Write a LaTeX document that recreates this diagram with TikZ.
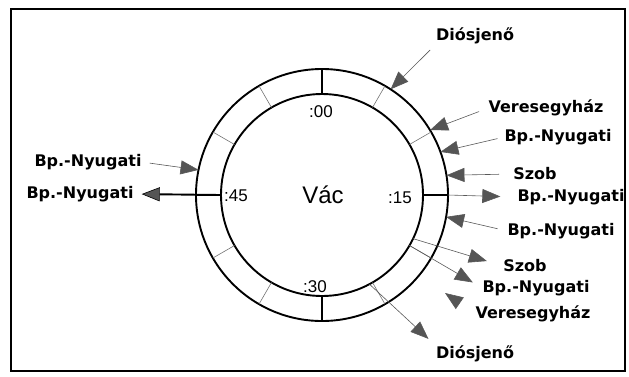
\documentclass[tikz,border=0pt]{standalone}
\usepackage{fontspec}
\setsansfont{DejaVu Sans}
\newfontfamily\clockfont{Liberation Sans}
\usetikzlibrary{arrows.meta,calc}
\definecolor{headgray}{RGB}{85,85,85}
\tikzset{
  stationlbl/.style={inner sep=0pt,
    font=\sffamily\bfseries\fontsize{16}{19}\selectfont},
  timelbl/.style={inner sep=0pt, font=\clockfont\fontsize{17}{20}\selectfont},
  townlbl/.style={inner sep=0pt, font=\clockfont\fontsize{24}{28}\selectfont},
  ringline/.style={line width=1.9pt},
  minortick/.style={black!55, line width=0.6pt},
  majortick/.style={line width=1.9pt},
  inarr/.style={-{Triangle[length=18pt, width=14pt, fill=headgray, line width=0.6pt]},
    black!65, line width=0.6pt},
  outarr/.style={inarr},
  mainarr/.style={inarr, black, line width=1.9pt},
}

\begin{document}
\begin{tikzpicture}[x=1pt, y=-1pt]
  \useasboundingbox (0,0) rectangle (629,376);
  \draw[line width=1.2pt] (11,9) rectangle (625,371);

  % Ring
  \coordinate (c) at (322,195);
  \draw[ringline] (c) circle[radius=126];
  \draw[ringline] (c) circle[radius=101];
  \foreach \a in {-60,-30,30,60,120,150,210,240}
    \draw[minortick] ($(c)+(\a:101)$) -- ($(c)+(\a:126)$);
  \foreach \a in {-90,0,90,180}
    \draw[majortick] ($(c)+(\a:101)$) -- ($(c)+(\a:126)$);

  % Times
  \node[townlbl] (vac) at (323,195) {Vác};
  \node[timelbl] (t00) at (321,112) {:00};
  \node[timelbl] (t15) at (400,198) {:15};
  \node[timelbl] (t30) at (315,287) {:30};
  \node[timelbl] (t45) at (236,196) {:45};

  % Stations
  \node[stationlbl] (d1) at (475,36) {Diósjenő};
  \node[stationlbl] (v1) at (546,108) {Veresegyház};
  \node[stationlbl] (b1) at (558,137) {Bp.-Nyugati};
  \node[stationlbl] (s1) at (535,174) {Szob};
  \node[stationlbl] (b2) at (571,197) {Bp.-Nyugati};
  \node[stationlbl] (b3) at (561,231) {Bp.-Nyugati};
  \node[stationlbl] (s2) at (525,266) {Szob};
  \node[stationlbl] (b4) at (536,288) {Bp.-Nyugati};
  \node[stationlbl] (v2) at (533,314) {Veresegyház};
  \node[stationlbl] (d2) at (475,354) {Diósjenő};
  \node[stationlbl] (l1) at (88,162) {Bp.-Nyugati};
  \node[stationlbl] (l2) at (80,194) {Bp.-Nyugati};

  % Points on the ring
  \coordinate (d1tip) at ($(c)+(-57:126)$);
  \coordinate (v1tip) at ($(c)+(-31:126)$);
  \coordinate (b1tip) at ($(c)+(-20:126)$);
  \coordinate (s1tip) at ($(c)+(-9:126)$);
  \coordinate (b2start) at ($(c)+(0:126)$);
  \coordinate (b3tip) at ($(c)+(10:126)$);
  \coordinate (s2start) at ($(c)+(25.6:101)$);
  \coordinate (b4start) at ($(c)+(30:101)$);
  \coordinate (v2tip) at (445,293);
  \coordinate (d2start) at ($(c)+(62:101)$);
  \coordinate (l1tip) at ($(c)+(191.5:126)$);
  \coordinate (l2start) at ($(c)+(180:101)$);

  % Arrows
  \draw[inarr, shorten <=8pt] (d1.south west) -- (d1tip);
  \draw[inarr, shorten <=10pt] (v1.west) -- (v1tip);
  \draw[inarr, shorten <=7pt] (b1.west) -- (b1tip);
  \draw[inarr, shorten <=14pt] (s1.west) -- (s1tip);
  \draw[outarr, shorten >=17pt] (b2start) -- (b2.west);
  \draw[inarr, shorten <=10pt] (b3.west) -- (b3tip);
  \draw[outarr, shorten >=17pt] (s2start) -- (s2.west);
  \draw[outarr, shorten >=11pt] (b4start) -- (b4.west);
  \draw[inarr, shorten <=20pt] (v2.west) -- (v2tip);
  \draw[outarr, shorten >=10pt] (d2start) -- (d2.north west);
  \draw[inarr, shorten <=8pt] (l1.east) -- (l1tip);
  \draw[mainarr, shorten >=8pt] (l2start) -- (l2.east);
\end{tikzpicture}
\end{document}
